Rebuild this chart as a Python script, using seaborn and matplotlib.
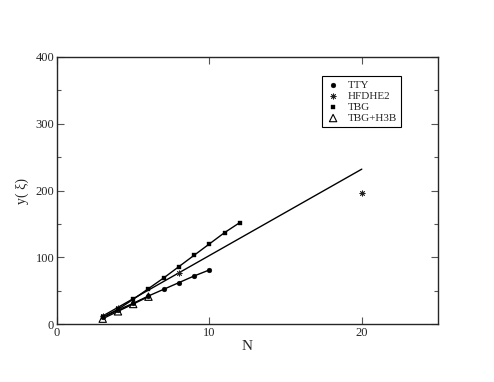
import matplotlib
matplotlib.use("Agg")
import matplotlib.pyplot as plt
from matplotlib.ticker import MultipleLocator
import seaborn as sns

# --- DATA ---
tty_N = [3, 4, 5, 6, 7, 8, 9, 10]
tty_y = [10, 21, 31, 42, 52, 62, 72, 81]

hfd_N = [3, 4, 8, 20]
hfd_y = [12, 24, 77, 197]

tbg_N = [3, 4, 5, 6, 7, 8, 9, 10, 11, 12]
tbg_y = [10, 22, 37, 53, 69, 86, 103, 120, 137, 152]

h3b_N = [3, 4, 5, 6]
h3b_y = [8, 19, 30, 41]

fit_N = [3, 20]
fit_y = [12, 232]

# --- STYLE ---
sns.set_style("ticks")
plt.rcParams['font.family'] = ['Liberation Serif', 'DejaVu Serif']

fig = plt.figure(figsize=(4.94, 3.82), dpi=100)
ax = fig.add_axes([0.1154, 0.1518, 0.7712, 0.699])

# connecting lines
sns.lineplot(x=tty_N, y=tty_y, ax=ax, color='black', lw=1, legend=False)
sns.lineplot(x=tbg_N, y=tbg_y, ax=ax, color='black', lw=1, legend=False)
sns.lineplot(x=h3b_N, y=h3b_y, ax=ax, color='black', lw=1, legend=False)
sns.lineplot(x=fit_N, y=fit_y, ax=ax, color='black', lw=1, legend=False)

# markers
sns.scatterplot(x=tty_N, y=tty_y, ax=ax, marker='o', s=12, color='black',
                edgecolor='black', label='TTY', zorder=3)
sns.scatterplot(x=hfd_N, y=hfd_y, ax=ax, marker=(8, 2, 0), s=14, color='#222222',
                linewidth=0.6, label='HFDHE2', zorder=3)
sns.scatterplot(x=tbg_N, y=tbg_y, ax=ax, marker='s', s=10, color='black',
                edgecolor='black', label='TBG', zorder=3)
sns.scatterplot(x=h3b_N, y=h3b_y, ax=ax, marker='^', s=28, facecolor='none',
                edgecolor='black', linewidth=0.8, label='TBG+H3B', zorder=3)

ax.set_xlim(0, 25)
ax.set_ylim(0, 400)
ax.xaxis.set_major_locator(MultipleLocator(10))
ax.yaxis.set_major_locator(MultipleLocator(100))
ax.yaxis.set_minor_locator(MultipleLocator(50))
ax.tick_params(which='both', direction='in', top=True, right=True,
               labelsize=9, width=0.8, color='#555555', pad=2)
ax.tick_params(which='major', length=5)
ax.tick_params(which='minor', length=3)
for sp in ax.spines.values():
    sp.set_linewidth(1)

ax.set_xlabel('N', fontsize=11, labelpad=1)
ax.set_ylabel('y( ξ)', fontsize=10, labelpad=5)

leg = ax.legend(loc='upper left', bbox_to_anchor=(0.6955, 0.929), fontsize=8,
                frameon=True, fancybox=False, edgecolor='black', framealpha=1,
                handletextpad=0.7, borderpad=0.35, labelspacing=0.12,
                handlelength=1.3, borderaxespad=0)
leg.get_frame().set_linewidth(0.8)

fig.savefig('out.png', dpi=100)
